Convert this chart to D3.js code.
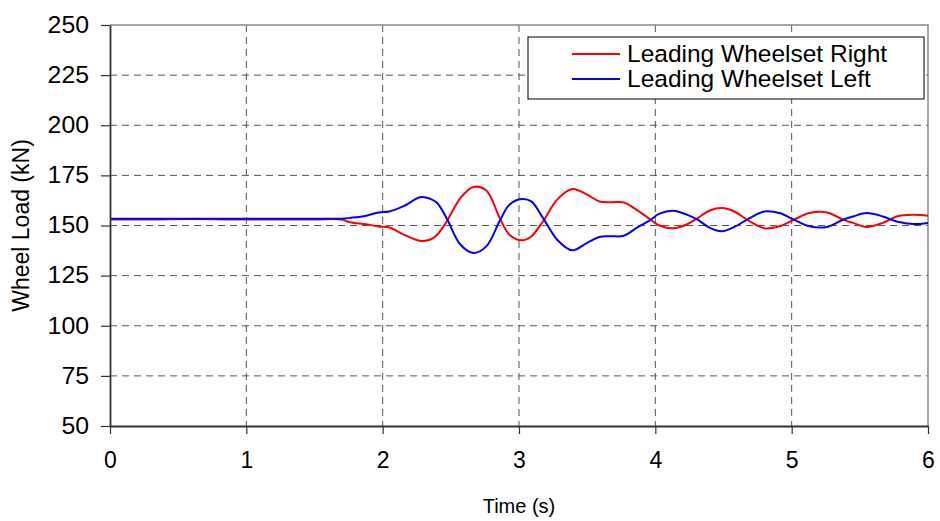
<!DOCTYPE html>
<html>
<head>
<meta charset="utf-8">
<script src="https://cdn.jsdelivr.net/npm/d3@7"></script>
<style>
  body { margin: 0; background: #ffffff; }
  svg { display: block; font-family: "Liberation Sans", Arial, sans-serif; }
</style>
</head>
<body>
<div id="chart"></div>
<script>
var timeS = [0, 0.3, 0.6, 0.9, 1.2, 1.5, 1.7, 1.76, 1.88, 1.97, 2.05, 2.15, 2.28, 2.35, 2.4, 2.47, 2.57, 2.665, 2.76, 2.86,
    2.93, 3.02, 3.09, 3.18, 3.28, 3.39, 3.5, 3.59, 3.68, 3.77, 3.86, 3.96, 4.03, 4.13, 4.23, 4.31, 4.4, 4.49, 4.58,
    4.68, 4.8, 4.91, 5.02, 5.13, 5.26, 5.38, 5.45, 5.55, 5.67, 5.77, 5.89, 6.0]

var rightLoad = [153.0, 153.0, 153.2, 153.0, 153.0, 153.0, 153.0, 151.6, 150.6, 149.5, 149.0, 145.6, 142.3, 143.0, 145.4, 152.0,
    163.7, 169.2, 167.5, 153.5, 145.4, 142.6, 144.5, 152.5, 162.9, 168.2, 165.4, 162.0, 161.6, 161.5, 157.9, 153.2,
    150.0, 148.6, 150.5, 153.7, 157.5, 158.7, 157.0, 152.6, 148.6, 149.6, 153.0, 156.2, 156.5, 152.8, 151.3, 149.3,
    151.3, 154.5, 155.4, 154.9]

var leftLoad = [153.4, 153.4, 153.4, 153.4, 153.4, 153.4, 153.4, 153.8, 154.9, 156.5, 157.0, 159.5, 164.2, 163.3, 161.2, 153.5,
    140.5, 136.3, 139.6, 152.5, 160.4, 163.2, 162.0, 153.3, 142.9, 137.6, 141.3, 144.3, 144.6, 144.9, 148.7, 152.6,
    155.9, 157.4, 155.4, 152.9, 148.8, 147.1, 149.3, 153.2, 157.0, 156.2, 152.8, 149.6, 149.3, 153.0, 154.5, 156.2,
    154.5, 152.0, 150.7, 151.3]

var seriesNames = ['Leading Wheelset Right', 'Leading Wheelset Left']
var seriesColors = ['#ff0000', '#0000ff']
var xTicks = [0, 1, 2, 3, 4, 5, 6]
var yTicks = [50, 75, 100, 125, 150, 175, 200, 225, 250]

var chart = (function(){

    var width = 940
    var height = 521
    var left = 110, right = 928, top = 25, bottom = 426

    var svg = d3.select('#chart').append('svg')
        .attr('width', width)
        .attr('height', height)

    var x = d3.scaleLinear().domain([0, 6]).range([left, right])
    var y = d3.scaleLinear().domain([50, 250]).range([bottom, top])

    // grid lines
    svg.append('g').selectAll('line.h')
        .data(yTicks.slice(1, -1))
        .enter().append('line')
        .attr('x1', left).attr('x2', right)
        .attr('y1', function(d){ return y(d) }).attr('y2', function(d){ return y(d) })
        .attr('stroke', '#555').attr('stroke-dasharray', '7,5')

    svg.append('g').selectAll('line.v')
        .data(xTicks.slice(1, -1))
        .enter().append('line')
        .attr('y1', top).attr('y2', bottom)
        .attr('x1', function(d){ return x(d) }).attr('x2', function(d){ return x(d) })
        .attr('stroke', '#555').attr('stroke-dasharray', '7,5')

    // top and right frame
    svg.append('path')
        .attr('d', 'M' + left + ',' + top + 'H' + right + 'V' + bottom)
        .attr('fill', 'none').attr('stroke', '#888').attr('stroke-width', 1.5)

    // series
    var line = d3.line().curve(d3.curveCatmullRom.alpha(0.5))
    var allSeries = [rightLoad, leftLoad]
    allSeries.forEach(function(vals, i){
        svg.append('path')
            .datum(vals)
            .attr('fill', 'none')
            .attr('stroke', seriesColors[i])
            .attr('stroke-width', 2)
            .attr('d', line.x(function(d, j){ return x(timeS[j]) }).y(function(d){ return y(d) }))
    })

    // axes
    var xAxis = svg.append('g')
        .attr('transform', 'translate(0,' + bottom + ')')
        .call(d3.axisBottom(x).tickValues(xTicks).tickSize(8).tickSizeOuter(0).tickPadding(18).tickFormat(d3.format('d')))
    var yAxis = svg.append('g')
        .attr('transform', 'translate(' + left + ',0)')
        .call(d3.axisLeft(y).tickValues(yTicks).tickSize(9).tickSizeOuter(0))

    ;[xAxis, yAxis].forEach(function(g){
        g.select('.domain').attr('stroke', '#333').attr('stroke-width', 1.8)
        g.selectAll('.tick line').attr('stroke', '#333').attr('stroke-width', 1.2)
        g.selectAll('.tick text').attr('fill', '#000').attr('font-size', 23)
            .attr('font-family', '"Liberation Sans", Arial, sans-serif')
    })
    // reference text is a little wider than the font
    yAxis.selectAll('.tick text').attr('transform', 'scale(1.08,1)').attr('x', -21 / 1.08)

    svg.append('text')
        .attr('x', x(3)).attr('y', 513)
        .attr('text-anchor', 'middle')
        .attr('font-size', 20)
        .text('Time (s)')

    svg.append('text')
        .attr('transform', 'translate(29,' + (top + bottom) / 2 + ') rotate(-90)')
        .attr('text-anchor', 'middle')
        .attr('font-size', 23)
        .text('Wheel Load (kN)')

    // legend
    var legend = svg.append('g')
    legend.append('rect')
        .attr('x', 528).attr('y', 37).attr('width', 396).attr('height', 62)
        .attr('fill', '#fff').attr('stroke', '#000').attr('stroke-width', 1)

    seriesNames.forEach(function(name, i){
        var ly = 54 + i * 25
        legend.append('line')
            .attr('x1', 572).attr('x2', 620)
            .attr('y1', ly).attr('y2', ly)
            .attr('stroke', seriesColors[i]).attr('stroke-width', 2)
        legend.append('text')
            .attr('x', 627).attr('y', ly + 8)
            .attr('font-size', 24.5)
            .text(name)
    })
})()
</script>
</body>
</html>
